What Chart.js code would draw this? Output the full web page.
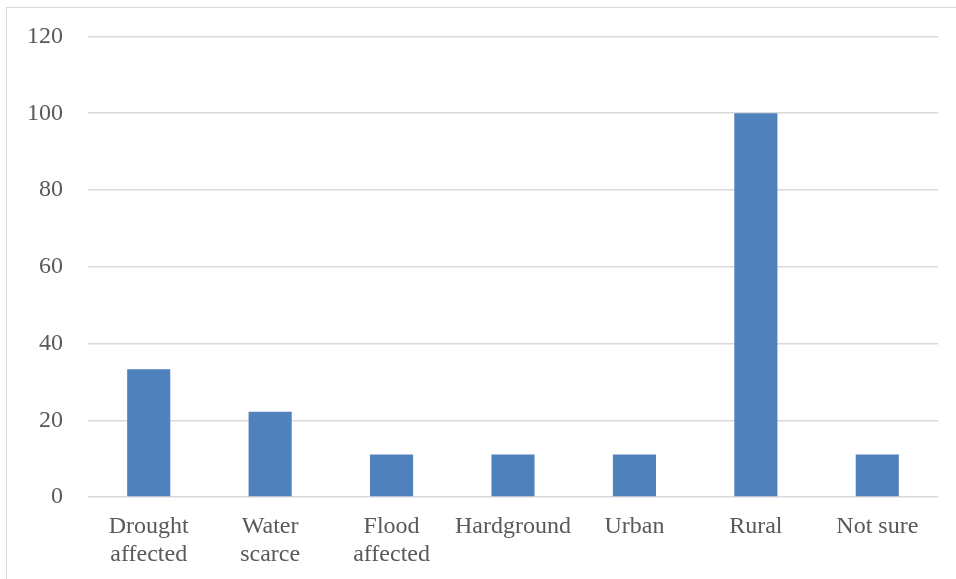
<!DOCTYPE html>
<html>
<head>
<meta charset="utf-8">
<script src="https://cdn.jsdelivr.net/npm/chart.js@4.4.1/dist/chart.umd.min.js"></script>
<style>
  html, body { margin: 0; padding: 0; background: #ffffff; }
  #wrap { position: relative; width: 956px; height: 579px; overflow: hidden; }
  #frame { position: absolute; left: 6px; top: 7px; width: 1000px; height: 600px;
           border-top: 1.5px solid #d9d9d9; border-left: 1.5px solid #d9d9d9; }
  canvas { position: absolute; left: 0; top: 0; }
</style>
</head>
<body>
<div id="wrap">
  <div id="frame"></div>
  <canvas id="chart" width="956" height="579"></canvas>
</div>
<script>
// Share of respondents per area type (%)
const categories = [
  ['Drought', 'affected'],
  ['Water', 'scarce'],
  ['Flood', 'affected'],
  'Hardground',
  'Urban',
  'Rural',
  'Not sure'
];
const values = [33.3, 22.2, 11.1, 11.1, 11.1, 100, 11.1];
const yTicks = [0, 20, 40, 60, 80, 100, 120];

const textColor = '#595959';
const gridColor = '#d9d9d9';
const barColor = '#4f81bd';
const font = { family: '"Liberation Serif", "Times New Roman", serif', size: 24, lineHeight: 1.17 };

new Chart(document.getElementById('chart'), {
  type: 'bar',
  data: {
    labels: categories,
    datasets: [{
      data: values,
      backgroundColor: barColor,
      borderWidth: 0,
      barPercentage: 0.355,
      categoryPercentage: 1.0
    }]
  },
  options: {
    responsive: false,
    animation: false,
    layout: { padding: { left: 0, right: 18, top: 36.5, bottom: 0 } },
    plugins: { legend: { display: false }, tooltip: { enabled: false } },
    scales: {
      x: {
        grid: { display: false, drawTicks: false },
        border: { display: false },
        ticks: { color: textColor, font: font, padding: 16, maxRotation: 0, autoSkip: false },
        afterFit: s => { s.height = 82; }
      },
      y: {
        min: 0,
        max: 120,
        afterBuildTicks: s => { s.ticks = yTicks.map(v => ({ value: v })); },
        grid: { color: gridColor, lineWidth: 1.5, drawTicks: false },
        border: { display: false },
        ticks: { color: textColor, font: { family: font.family, size: 24 }, padding: 25 },
        afterFit: s => { s.width = 88; s.paddingTop = 0; s.paddingBottom = 0; }
      }
    }
  }
});
</script>
</body>
</html>
